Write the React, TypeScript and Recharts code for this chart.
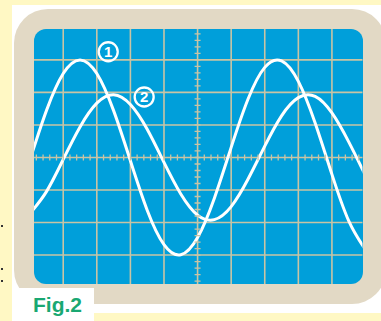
import { ComposedChart, Line, Scatter, XAxis, YAxis, CartesianGrid, ReferenceDot } from "recharts"

// screen position in divisions from the centre crosshair
const xs = [-5, -4.5, -4, -3.5, -3, -2.5, -2, -1.5, -1, -0.5, 0, 0.5, 1, 1.5, 2, 2.5, 3, 3.5, 4, 4.5, 5]
// trace 1 (large amplitude)
const trace1 = [-0.1, 1.44, 2.58, 3.0, 2.58, 1.44, -0.1, -1.62, -2.68, -2.99, -2.46, -1.25, 0.31, 1.79, 2.77, 2.97, 2.34, 1.06, -0.52, -1.95, -2.84]
// trace 2 (smaller, lagging)
const trace2 = [-1.73, -1.05, -0.06, 0.94, 1.67, 1.93, 1.63, 0.87, -0.15, -1.12, -1.77, -1.91, -1.51, -0.67, 0.35, 1.28, 1.84, 1.88, 1.37, 0.48, -0.56]

const majorX = [-4, -3, -2, -1, 0, 1, 2, 3, 4]
const majorY = [-3, -2, -1, 0, 1, 2, 3]

// trace markers: [x, y, label]
const markers: Array<[number, number, string]> = [
  [-2.66, 3.25, "1"],
  [-1.59, 1.86, "2"],
]

const W = 381
const H = 321
const GRID = "#c9c4a4"

const data = xs.map((x, i) => ({ x, t1: trace1[i], t2: trace2[i] }))

// fine graduations on the centre crosshair, five per division
const minorX = Array.from({ length: 49 }, (_, i) => ({ x: -4.8 + i * 0.2, y: 0 }))
const minorY = Array.from({ length: 39 }, (_, i) => ({ x: 0, y: -3.8 + i * 0.2 }))

const VTick = (p: any) => <line x1={p.cx} x2={p.cx} y1={p.cy - 3} y2={p.cy + 3} stroke={GRID} strokeWidth={1.3} />
const HTick = (p: any) => <line x1={p.cx - 3} x2={p.cx + 3} y1={p.cy} y2={p.cy} stroke={GRID} strokeWidth={1.3} />

export default function App() {
  return (
    <div style={{ position: "relative", width: W, height: H, background: "#fff8c4", overflow: "hidden", fontFamily: "'Liberation Sans', Arial, sans-serif" }}>
      <style>{"body{margin:0}"}</style>
      {/* white page panel */}
      <div style={{ position: "absolute", left: 12, top: 5, width: 380, height: 308, background: "#fff" }} />
      {/* bezel */}
      <div style={{ position: "absolute", left: 14, top: 9, width: 372, height: 295, background: "#e2d9c5", borderRadius: 34 }} />
      {/* screen */}
      <div style={{ position: "absolute", left: 34, top: 29, width: 328.5, height: 255, background: "#009fda", borderRadius: 12 }} />
      {/* caption box */}
      <div style={{ position: "absolute", left: 12, top: 288, width: 82, height: 40, background: "#fff" }} />
      <div style={{ position: "absolute", left: 33, top: 292, fontSize: 21, fontWeight: 700, color: "#19a872", lineHeight: "26px" }}>Fig.2</div>
      {[225, 268, 280].map((t) => (
        <div key={t} style={{ position: "absolute", left: 1, top: t, width: 2, height: 2, background: "#333" }} />
      ))}

      <div style={{ position: "absolute", left: 0, top: 0 }}>
        <ComposedChart width={W} height={H} data={data} margin={{ top: 29, left: 34, right: W - 362.5, bottom: H - 284 }}>
          <CartesianGrid stroke={GRID} strokeWidth={1.6} verticalValues={majorX} horizontalValues={majorY} />
          <XAxis dataKey="x" type="number" domain={[-4.87, 4.91]} allowDataOverflow ticks={majorX} hide />
          <YAxis type="number" domain={[-3.89, 3.95]} allowDataOverflow ticks={majorY} hide />
          <Scatter data={minorX} dataKey="y" shape={VTick} isAnimationActive={false} />
          <Scatter data={minorY} dataKey="y" shape={HTick} isAnimationActive={false} />
          <Line type="natural" dataKey="t1" stroke="#fff" strokeWidth={3} dot={false} isAnimationActive={false} />
          <Line type="natural" dataKey="t2" stroke="#fff" strokeWidth={3} dot={false} isAnimationActive={false} />
          {markers.map(([x, y, label]) => (
            <ReferenceDot
              key={label}
              x={x}
              y={y}
              r={9.5}
              fill="none"
              stroke="#fff"
              strokeWidth={2.3}
              label={{ value: label, position: "center", fill: "#fff", fontSize: 15, fontWeight: 700 }}
            />
          ))}
        </ComposedChart>
      </div>
    </div>
  )
}
